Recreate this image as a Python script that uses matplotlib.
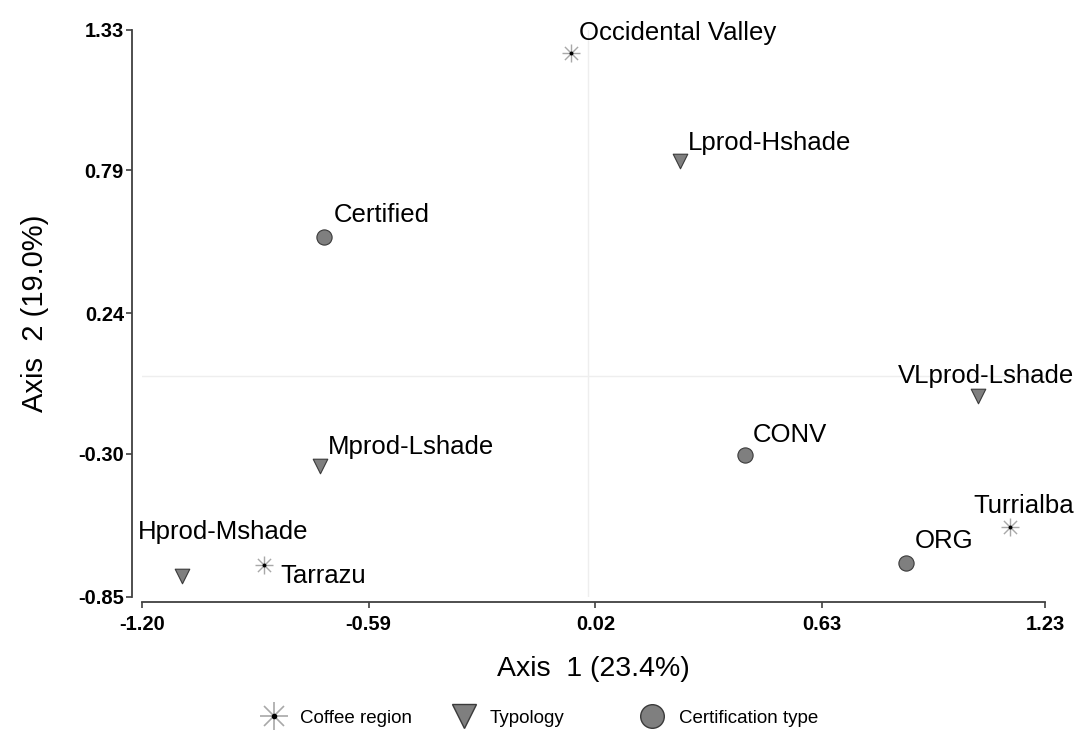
import matplotlib.pyplot as plt
from matplotlib.lines import Line2D

plt.rcParams['font.family'] = ['Liberation Sans', 'DejaVu Sans']

# Datos
region_names = ['Occidental Valley', 'Turrialba', 'Tarrazu']
region_x = [-0.045, 1.137, -0.873]
region_y = [1.242, -0.581, -0.727]

typo_names = ['Lprod-Hshade', 'VLprod-Lshade', 'Mprod-Lshade', 'Hprod-Mshade']
typo_x = [0.247, 1.051, -0.722, -1.092]
typo_y = [0.827, -0.078, -0.347, -0.769]

cert_names = ['Certified', 'CONV', 'ORG']
cert_x = [-0.709, 0.422, 0.857]
cert_y = [0.532, -0.305, -0.719]

xticks = [-1.20, -0.59, 0.02, 0.63, 1.23]
yticks = [-0.85, -0.30, 0.24, 0.79, 1.33]

legend_labels = ['Coffee region', 'Typology', 'Certification type']

# desplazamiento de etiquetas en píxeles (dx, dy, ha)
label_offsets = {
    'Occidental Valley': (8, 20, 'left'),
    'Turrialba': (13, 21, 'center'),
    'Tarrazu': (17, -11, 'left'),
    'Lprod-Hshade': (8, 18, 'left'),
    'VLprod-Lshade': (8, 20, 'center'),
    'Mprod-Lshade': (8, 19, 'left'),
    'Hprod-Mshade': (41, 44, 'center'),
    'Certified': (9, 22, 'left'),
    'CONV': (8, 20, 'left'),
    'ORG': (8, 22, 'left'),
}

fill = '#7f7f7f'
edge = '#3a3a3a'
star_grey = '#a8a8a8'

fig = plt.figure(figsize=(10.84, 7.45), dpi=100)
ax = fig.add_axes([0.131, 0.199, 0.833, 0.761])

ax.axhline(0, color='#eeeeee', lw=1, zorder=0)
ax.axvline(0, color='#eeeeee', lw=1, zorder=0)

# Región cafetalera: asterisco de 8 brazos
ax.scatter(region_x, region_y, marker='+', s=160, c=star_grey, linewidths=1, zorder=3)
ax.scatter(region_x, region_y, marker='x', s=90, c=star_grey, linewidths=1, zorder=3)
ax.scatter(region_x, region_y, marker='o', s=8, c='black', linewidths=0, zorder=4)

ax.scatter(typo_x, typo_y, marker='v', s=110, c=fill, edgecolors=edge, linewidths=0.8, zorder=3)
ax.scatter(cert_x, cert_y, marker='o', s=120, c=fill, edgecolors=edge, linewidths=0.8, zorder=3)

for names, xs, ys in [(region_names, region_x, region_y),
                      (typo_names, typo_x, typo_y),
                      (cert_names, cert_x, cert_y)]:
    for n, x, y in zip(names, xs, ys):
        dx, dy, ha = label_offsets[n]
        ax.annotate(n, (x, y), xytext=(dx, dy), textcoords='offset pixels',
                    ha=ha, va='center', fontsize=18.5, color='black')

ax.set_xlim(xticks[0], xticks[-1])
ax.set_ylim(yticks[0], yticks[-1])

for s in ['top', 'right']:
    ax.spines[s].set_visible(False)
ax.spines['left'].set_position(('outward', 7))
ax.spines['bottom'].set_position(('outward', 4))
for s in ['left', 'bottom']:
    ax.spines[s].set_color('#404040')
    ax.spines[s].set_linewidth(1.3)
ax.tick_params(direction='out', length=4, width=1.2, color='#404040',
               labelsize=14.5, pad=2)
ax.tick_params(axis='x', pad=5)

ax.set_xticks(xticks)
ax.set_yticks(yticks)
ax.set_xticklabels([f'{t:.2f}' for t in xticks])
ax.set_yticklabels([f'{t:.2f}' for t in yticks])
for lab in ax.get_xticklabels() + ax.get_yticklabels():
    lab.set_fontweight('bold')

ax.set_xlabel('Axis  1 (23.4%)', fontsize=20.5, labelpad=16)
ax.set_ylabel('Axis  2 (19.0%)', fontsize=21, labelpad=21)

# Leyenda (cada entrada en su sitio)
h_star = (Line2D([], [], ls='', marker='+', ms=20, mew=1.2, color=star_grey),
          Line2D([], [], ls='', marker='x', ms=14, mew=1.2, color=star_grey),
          Line2D([], [], ls='', marker='o', ms=3, color='black'))
h_tri = Line2D([], [], ls='', marker='v', ms=17, mfc=fill, mec=edge, mew=1)
h_cir = Line2D([], [], ls='', marker='o', ms=17, mfc=fill, mec=edge, mew=1)
handles = [h_star, h_tri, h_cir]
legend_x = [0.239, 0.414, 0.588]
for h, lab, lx in zip(handles, legend_labels, legend_x):
    fig.legend([h], [lab], loc='center left', bbox_to_anchor=(lx, 0.036),
               frameon=False, fontsize=13.5, handlelength=1.6,
               handletextpad=0.6, borderpad=0, borderaxespad=0)

fig.savefig('out.png', dpi=100)
